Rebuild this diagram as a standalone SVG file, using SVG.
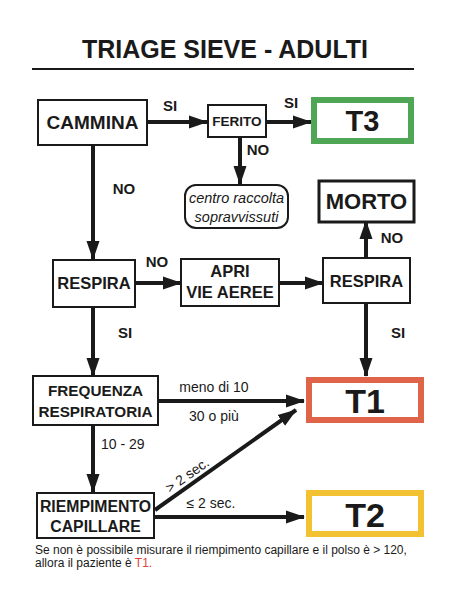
<svg xmlns="http://www.w3.org/2000/svg" width="450" height="592" viewBox="0 0 450 592">
<style>
.box{fill:#fff;stroke:#1a1a1a;stroke-width:2}
.b{font-family:"Liberation Sans",Arial,sans-serif;font-weight:bold;fill:#1a1a1a;text-anchor:middle}
.r{font-family:"Liberation Sans",Arial,sans-serif;fill:#1a1a1a}
.c{stroke:#1a1a1a;stroke-width:4;fill:none}
</style>
<defs>
<marker id="ah" markerUnits="userSpaceOnUse" markerWidth="20" markerHeight="16" refX="18" refY="8" orient="auto">
<path d="M0,1.5 L19,8 L0,14.5 Z" fill="#1a1a1a"/>
</marker>
</defs>
<rect width="450" height="592" fill="#fff"/>
<text class="b" x="225" y="58" font-size="25">TRIAGE SIEVE - ADULTI</text>
<line x1="32" y1="69" x2="414" y2="69" stroke="#1a1a1a" stroke-width="2"/>

<g id="connectors">
<line class="c" x1="148" y1="122" x2="207" y2="122" marker-end="url(#ah)"/>
<line class="c" x1="267" y1="122" x2="311" y2="122" marker-end="url(#ah)"/>
<line class="c" x1="240" y1="138" x2="240" y2="184" marker-end="url(#ah)"/>
<line class="c" x1="93" y1="146" x2="93" y2="259" marker-end="url(#ah)"/>
<line class="c" x1="136" y1="283" x2="181" y2="283" marker-end="url(#ah)"/>
<line class="c" x1="280" y1="283" x2="323" y2="283" marker-end="url(#ah)"/>
<line class="c" x1="366" y1="257" x2="366" y2="221" marker-end="url(#ah)"/>
<line class="c" x1="93" y1="308" x2="93" y2="376" marker-end="url(#ah)"/>
<line class="c" x1="366" y1="304" x2="366" y2="376" marker-end="url(#ah)"/>
<line class="c" x1="159" y1="401" x2="304" y2="401" marker-end="url(#ah)"/>
<line class="c" x1="93" y1="426" x2="93" y2="492" marker-end="url(#ah)"/>
<line class="c" x1="155" y1="510" x2="296" y2="410" marker-end="url(#ah)"/>
<line class="c" x1="155" y1="517" x2="304" y2="517" marker-end="url(#ah)"/>
<text class="b" x="170" y="111" font-size="15">SI</text>
<text class="b" x="291" y="108" font-size="15">SI</text>
<text class="b" x="258" y="155" font-size="15">NO</text>
<text class="b" x="124" y="194" font-size="15">NO</text>
<text class="b" x="157" y="267" font-size="15">NO</text>
<text class="b" x="392" y="243" font-size="15">NO</text>
<text class="b" x="125" y="338" font-size="15">SI</text>
<text class="b" x="398" y="338" font-size="15">SI</text>
<text class="r" x="214" y="392" font-size="14" text-anchor="middle">meno di 10</text>
<text class="r" x="214" y="421" font-size="14" text-anchor="middle">30 o più</text>
<text class="r" x="101" y="449" font-size="14">10 - 29</text>
<text class="r" x="0" y="0" font-size="14" text-anchor="middle" transform="translate(190,479) rotate(-35)">&gt; 2 sec.</text>
<text class="r" x="211" y="508" font-size="14" text-anchor="middle">≤ 2 sec.</text>
</g>

<g id="cammina"><rect class="box" x="38" y="100" width="109" height="45"/><text class="b" x="92.5" y="129" font-size="19">CAMMINA</text></g>
<g id="ferito"><rect class="box" x="208" y="105" width="58" height="32"/><text class="b" x="237" y="126" font-size="13.5">FERITO</text></g>
<g id="t3"><rect x="314" y="100" width="97" height="41" fill="#fff" stroke="#4fa655" stroke-width="6"/><text class="b" x="362.5" y="131" font-size="29">T3</text></g>
<g id="centro"><rect class="box" x="185" y="185" width="103" height="43" rx="11"/><text class="r" x="236.5" y="203" font-size="14.5" font-style="italic" text-anchor="middle">centro raccolta</text><text class="r" x="236.5" y="222" font-size="14.5" font-style="italic" text-anchor="middle">sopravvissuti</text></g>
<g id="morto"><rect x="319" y="181" width="95" height="41" fill="#fff" stroke="#1a1a1a" stroke-width="3"/><text class="b" x="366.5" y="209" font-size="22">MORTO</text></g>
<g id="respira1"><rect class="box" x="53" y="260" width="82" height="47"/><text class="b" x="94" y="289" font-size="16.5">RESPIRA</text></g>
<g id="apri"><rect class="box" x="181" y="259" width="98" height="47"/><text class="b" x="230" y="277" font-size="16.5">APRI</text><text class="b" x="230" y="298" font-size="16.5">VIE AEREE</text></g>
<g id="respira2"><rect class="box" x="323" y="258" width="87" height="45"/><text class="b" x="366.5" y="287" font-size="16.5">RESPIRA</text></g>
<g id="frequenza"><rect class="box" x="33" y="376" width="125" height="49"/><text class="b" x="95.5" y="396" font-size="15.3">FREQUENZA</text><text class="b" x="95.5" y="417" font-size="15.3">RESPIRATORIA</text></g>
<g id="t1"><rect x="309" y="380" width="112" height="40" fill="#fff" stroke="#e0644a" stroke-width="6"/><text class="b" x="365" y="413" font-size="34">T1</text></g>
<g id="riempimento"><rect class="box" x="37" y="493" width="117" height="45"/><text class="b" x="95.5" y="512" font-size="15.8">RIEMPIMENTO</text><text class="b" x="95.5" y="532" font-size="15.8">CAPILLARE</text></g>
<g id="t2"><rect x="309" y="493" width="112" height="41" fill="#fff" stroke="#f2c232" stroke-width="6"/><text class="b" x="365" y="527" font-size="34">T2</text></g>

<text class="r" x="35" y="554" font-size="12">Se non è possibile misurare il riempimento capillare e il polso è &gt; 120,</text>
<text class="r" x="35" y="567" font-size="12">allora il paziente è <tspan fill="#e0443a">T1.</tspan></text>
</svg>
